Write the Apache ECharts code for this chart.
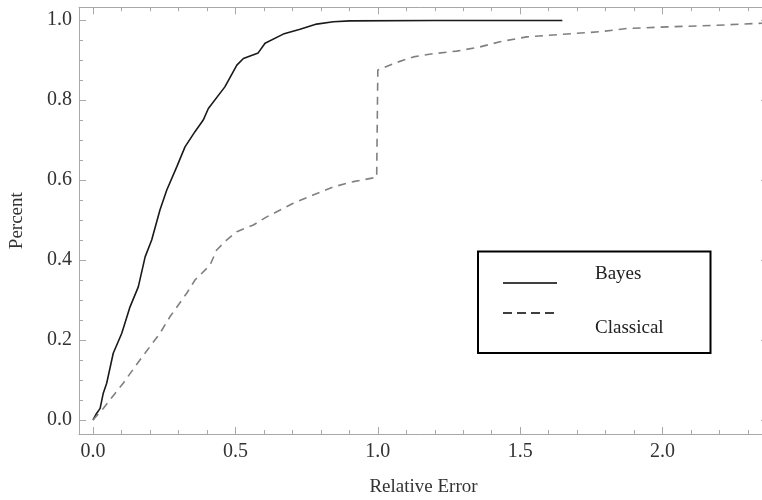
<!DOCTYPE html>
<html>
<head>
<meta charset="utf-8">
<script src="https://cdn.jsdelivr.net/npm/echarts@6/dist/echarts.min.js"></script>
<style>
  html, body { margin: 0; padding: 0; background: #fff; }
  #chart { width: 762px; height: 500px; }
</style>
</head>
<body>
<div id="chart"></div>
<script>
// values
const bayesX = [0, 0.013, 0.025, 0.036, 0.048, 0.071, 0.101, 0.130, 0.159, 0.183, 0.206, 0.235, 0.259, 0.294,
  0.323, 0.358, 0.387, 0.405, 0.463, 0.505, 0.528, 0.580, 0.604, 0.668, 0.727, 0.785, 0.844, 0.902, 1.2, 1.648]
const bayesY = [0, 0.017, 0.029, 0.067, 0.092, 0.167, 0.217, 0.283, 0.333, 0.408, 0.45, 0.525, 0.575, 0.633,
  0.683, 0.721, 0.75, 0.779, 0.833, 0.8875, 0.904, 0.918, 0.942, 0.965, 0.977, 0.99, 0.996, 0.998, 0.999, 0.999]

const classicalX = [0, 0.036, 0.106, 0.147, 0.235, 0.270, 0.329, 0.358, 0.411, 0.434, 0.469, 0.505, 0.563, 0.610,
  0.657, 0.703, 0.773, 0.844, 0.914, 0.996, 1.0, 1.066, 1.125, 1.195, 1.277, 1.359, 1.429, 1.523, 1.640, 1.780,
  1.874, 2.014, 2.190, 2.37]
const classicalY = [0, 0.029, 0.092, 0.133, 0.217, 0.258, 0.317, 0.35, 0.3875, 0.425, 0.45, 0.471, 0.4875, 0.508,
  0.525, 0.542, 0.5625, 0.583, 0.596, 0.607, 0.875, 0.894, 0.908, 0.916, 0.9225, 0.933, 0.946, 0.958, 0.964, 0.971,
  0.979, 0.983, 0.987, 0.993]

const xMajorTicks = [0, 0.5, 1.0, 1.5, 2.0]
const xMinorTicks = [0.1, 0.2, 0.3, 0.4, 0.6, 0.7, 0.8, 0.9, 1.1, 1.2, 1.3, 1.4, 1.6, 1.7, 1.8, 1.9, 2.1, 2.2, 2.3]
const yMajorTicks = [0, 0.2, 0.4, 0.6, 0.8, 1.0]
const yMinorTicks = [0.05, 0.1, 0.15, 0.25, 0.3, 0.35, 0.45, 0.5, 0.55, 0.65, 0.7, 0.75, 0.85, 0.9, 0.95]

const seriesNames = ['Bayes', 'Classical']

// the frame runs a little past the right edge of the picture
const X_MIN = -0.0492
const X_MAX = 2.370
const Y_MIN = -0.035
const Y_MAX = 1.032

const FONT = 'Liberation Serif'
const frameColor = '#a8a8a8'

const pairs = (xs, ys) => xs.map((x, i) => [x, ys[i]])

// one axis draws the frame line + major ticks, a twin draws the short minor ticks
function xAxisPair(position, withLabels) {
  const base = { type: 'value', position, min: X_MIN, max: X_MAX, splitLine: { show: false } }
  return [
    Object.assign({}, base, {
      name: withLabels ? 'Relative Error' : '',
      nameLocation: 'middle',
      nameGap: 44,
      nameTextStyle: { fontFamily: FONT, fontSize: 19, color: '#333' },
      axisLine: { show: true, onZero: false, lineStyle: { color: frameColor, width: 1 } },
      axisTick: { show: true, inside: true, length: 7, customValues: xMajorTicks, lineStyle: { color: frameColor } },
      axisLabel: {
        show: withLabels,
        customValues: xMajorTicks,
        margin: 8,
        fontFamily: FONT,
        fontSize: 20,
        color: '#333',
        formatter: v => v.toFixed(1)
      }
    }),
    Object.assign({}, base, {
      axisLine: { show: false, onZero: false },
      axisTick: { show: true, inside: true, length: 4, customValues: xMinorTicks, lineStyle: { color: frameColor } },
      axisLabel: { show: false }
    })
  ]
}

function yAxisPair(position, withLabels) {
  const base = { type: 'value', position, min: Y_MIN, max: Y_MAX, splitLine: { show: false } }
  return [
    Object.assign({}, base, {
      name: withLabels ? 'Percent' : '',
      nameLocation: 'middle',
      nameGap: 52,
      nameTextStyle: { fontFamily: FONT, fontSize: 19, color: '#333' },
      axisLine: { show: true, onZero: false, lineStyle: { color: frameColor, width: 1 } },
      axisTick: { show: true, inside: true, length: 7, customValues: yMajorTicks, lineStyle: { color: frameColor } },
      axisLabel: {
        show: withLabels,
        customValues: yMajorTicks,
        margin: 7,
        fontFamily: FONT,
        fontSize: 20,
        color: '#333',
        formatter: v => v.toFixed(1)
      }
    }),
    Object.assign({}, base, {
      axisLine: { show: false, onZero: false },
      axisTick: { show: true, inside: true, length: 4, customValues: yMinorTicks, lineStyle: { color: frameColor } },
      axisLabel: { show: false }
    })
  ]
}

const chart = echarts.init(document.getElementById('chart'), null, { renderer: 'canvas' })

chart.setOption({
  animation: false,
  backgroundColor: '#fff',
  grid: { left: 79, right: -6, top: 7.3, bottom: 66, containLabel: false, outerBoundsMode: 'none' },
  xAxis: [...xAxisPair('bottom', true), ...xAxisPair('top', false)],
  yAxis: [...yAxisPair('left', true), ...yAxisPair('right', false)],
  legend: { show: false },
  series: [
    {
      name: seriesNames[0],
      type: 'line',
      xAxisIndex: 0,
      yAxisIndex: 0,
      data: pairs(bayesX, bayesY),
      showSymbol: false,
      clip: true,
      lineStyle: { color: '#1a1a1a', width: 1.6 }
    },
    {
      name: seriesNames[1],
      type: 'line',
      xAxisIndex: 0,
      yAxisIndex: 0,
      data: pairs(classicalX, classicalY),
      showSymbol: false,
      clip: true,
      lineStyle: { color: '#808080', width: 1.6, type: [8, 6] }
    }
  ],
  // boxed legend drawn by hand, like the original figure
  graphic: [
    {
      type: 'rect',
      shape: { x: 478, y: 251.5, width: 232.5, height: 101.5 },
      style: { fill: '#fff', stroke: '#000', lineWidth: 2 }
    },
    {
      type: 'line',
      shape: { x1: 503, y1: 283, x2: 557, y2: 283 },
      style: { stroke: '#000', lineWidth: 1.5 }
    },
    {
      type: 'line',
      shape: { x1: 503, y1: 313, x2: 555, y2: 313 },
      style: { stroke: '#000', lineWidth: 1.5, lineDash: [9, 5] }
    },
    {
      type: 'text',
      x: 595,
      y: 274,
      style: { text: seriesNames[0], fontFamily: FONT, fontSize: 19, fill: '#222', verticalAlign: 'middle' }
    },
    {
      type: 'text',
      x: 595,
      y: 328,
      style: { text: seriesNames[1], fontFamily: FONT, fontSize: 19, fill: '#222', verticalAlign: 'middle' }
    }
  ]
})
</script>
</body>
</html>
